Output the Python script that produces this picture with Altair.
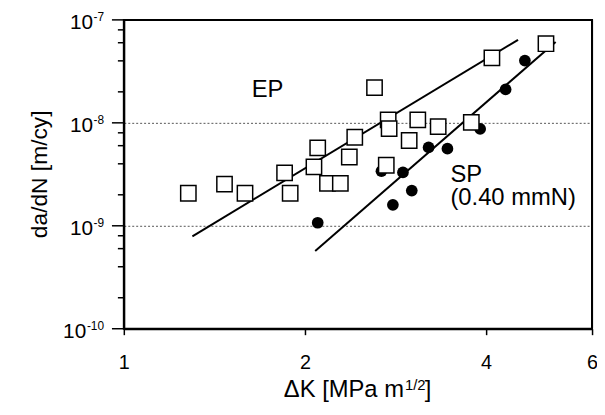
import altair as alt
import pandas as pd

# ---- data ----
ep_dk = [1.28, 1.47, 1.59, 1.85, 1.89, 2.07, 2.10, 2.18, 2.29, 2.37, 2.42, 2.61,
         2.73, 2.75, 2.76, 2.98, 3.08, 3.33, 3.78, 4.09, 5.03]
ep_rate = [2.07e-9, 2.54e-9, 2.07e-9, 3.27e-9, 2.07e-9, 3.73e-9, 5.71e-9, 2.58e-9,
           2.58e-9, 4.66e-9, 7.25e-9, 2.20e-8, 3.87e-9, 1.07e-8, 8.8e-9, 6.74e-9,
           1.07e-8, 9.19e-9, 1.01e-8, 4.27e-8, 5.87e-8]
sp_dk = [2.10, 2.68, 2.80, 2.91, 3.01, 3.21, 3.45, 3.91, 4.31, 4.64]
sp_rate = [1.07e-9, 3.39e-9, 1.60e-9, 3.30e-9, 2.20e-9, 5.77e-9, 5.61e-9, 8.73e-9,
           2.11e-8, 4.03e-8]
ep_fit_dk = [1.30, 4.52]
ep_fit_rate = [7.9e-10, 6.4e-8]
sp_fit_dk = [2.08, 5.22]
sp_fit_rate = [5.7e-10, 6.1e-8]

x_ticks = [1, 2, 4, 6]
y_decades = [1e-10, 1e-9, 1e-8, 1e-7]
y_minor_mult = [2, 4, 6, 8]

labels = ["EP", "SP", "(0.40 mmN)"]
label_dk = [1.733, 3.49, 3.49]
label_rate = [2.09e-8, 2.66e-9, 1.60e-9]

x_title = "ΔK [MPa m"
x_title_sup = "1/2"
x_title_end = "]"
y_title = "da/dN [m/cy]"

FONT = "Liberation Sans"

# ---- tables ----
ep = pd.DataFrame({"dk": ep_dk, "rate": ep_rate})
sp = pd.DataFrame({"dk": sp_dk, "rate": sp_rate})
fits = pd.DataFrame({
    "dk": ep_fit_dk + sp_fit_dk,
    "rate": ep_fit_rate + sp_fit_rate,
    "series": ["EP"] * 2 + ["SP"] * 2,
})
ann = pd.DataFrame({"t": labels, "dk": label_dk, "rate": label_rate})
ymajor = pd.DataFrame({"rate": y_decades})
yminor = pd.DataFrame({"rate": [d * m for d in y_decades[:-1] for m in y_minor_mult]})

xscale = alt.Scale(type="log", domain=[x_ticks[0], x_ticks[-1]], nice=False)
yscale = alt.Scale(type="log", domain=[y_decades[0], y_decades[-1]], nice=False)

xaxis = alt.Axis(values=x_ticks, format="d", title=None, grid=False,
                 tickSize=6, tickWidth=1.5, tickColor="black",
                 domainColor="black", domainWidth=2,
                 labelFont=FONT, labelFontSize=20, labelColor="black",
                 labelPadding=18, labelFlush=False)
yaxis = alt.Axis(values=y_decades[1:-1], labels=False, title=None, ticks=False,
                 domainColor="black", domainWidth=2,
                 grid=True, gridColor="#555555", gridWidth=1, gridDash=[2, 2])

X = alt.X("dk:Q", scale=xscale, axis=xaxis)
Y = alt.Y("rate:Q", scale=yscale, axis=yaxis)

# frame (top and right edges)
frame_top = alt.Chart(pd.DataFrame({"rate": [y_decades[-1]]})).mark_rule(
    color="black", strokeWidth=2).encode(y=Y)
frame_right = alt.Chart(pd.DataFrame({"dk": [x_ticks[-1]]})).mark_rule(
    color="black", strokeWidth=2).encode(x=X)

major_ticks = alt.Chart(ymajor).mark_rule(color="black", strokeWidth=1.5).encode(
    y=Y, x=alt.value(-12), x2=alt.value(1))
minor_ticks = alt.Chart(yminor).mark_rule(color="black", strokeWidth=1.5).encode(
    y=Y, x=alt.value(-6), x2=alt.value(0))

lines = alt.Chart(fits).mark_line(color="black", strokeWidth=2).encode(
    x=X, y=Y, detail="series:N")

circles = alt.Chart(sp).mark_circle(size=140, color="black", opacity=1).encode(x=X, y=Y)

squares = alt.Chart(ep).mark_point(shape="square", size=240, filled=True, fill="white",
                                   stroke="black", strokeWidth=1.5, opacity=1).encode(x=X, y=Y)

ann_ep = alt.Chart(ann).transform_filter("datum.t == 'EP'").mark_text(
    font=FONT, fontSize=24, color="black", align="center", baseline="middle").encode(
    x=X, y=Y, text="t:N")
ann_sp = alt.Chart(ann).transform_filter("datum.t != 'EP'").mark_text(
    font=FONT, fontSize=24, color="black", align="left", baseline="alphabetic").encode(
    x=X, y=Y, text="t:N")

ylab_c = alt.Chart(ymajor).transform_calculate(
    e="toString(round(log(datum.rate)/LN10))", base="'10'")
ten_short = ylab_c.transform_filter("length(datum.e) == 2").mark_text(
    font=FONT, fontSize=21, color="black", align="right", baseline="middle", dy=3).encode(
    y=Y, x=alt.value(-31), text="base:N")
ten_long = ylab_c.transform_filter("length(datum.e) == 3").mark_text(
    font=FONT, fontSize=21, color="black", align="right", baseline="middle", dy=3).encode(
    y=Y, x=alt.value(-38), text="base:N")
exps = ylab_c.mark_text(
    font=FONT, fontSize=12, color="black", align="right", baseline="middle", dy=-3).encode(
    y=Y, x=alt.value(-20), text="e:N")

xt_main = alt.Chart(pd.DataFrame({"t": [x_title]})).mark_text(
    font=FONT, fontSize=24, color="black", align="right", baseline="alphabetic").encode(
    x=alt.value(283), y=alt.value(381), text="t:N")
xt_sup = alt.Chart(pd.DataFrame({"t": [x_title_sup]})).mark_text(
    font=FONT, fontSize=15, color="black", align="left", baseline="alphabetic").encode(
    x=alt.value(284), y=alt.value(374), text="t:N")
xt_end = alt.Chart(pd.DataFrame({"t": [x_title_end]})).mark_text(
    font=FONT, fontSize=24, color="black", align="left", baseline="alphabetic").encode(
    x=alt.value(304), y=alt.value(381), text="t:N")

yt = alt.Chart(pd.DataFrame({"t": [y_title]})).mark_text(
    font=FONT, fontSize=23, color="black", align="center", baseline="middle", angle=270).encode(
    x=alt.value(-85), y=alt.value(156), text="t:N")

chart = alt.layer(
    lines, circles, squares, frame_top, frame_right, major_ticks, minor_ticks,
    ann_ep, ann_sp, ten_short, ten_long, exps, xt_main, xt_sup, xt_end, yt
).properties(
    width=473, height=312,
    background="white",
    autosize=alt.AutoSizeParams(type="none"),
    padding={"left": 117, "top": 10, "right": 5, "bottom": 72},
).configure_view(stroke="black", strokeWidth=2)

chart.save("out.html", embed_options={"renderer": "svg", "actions": False})
